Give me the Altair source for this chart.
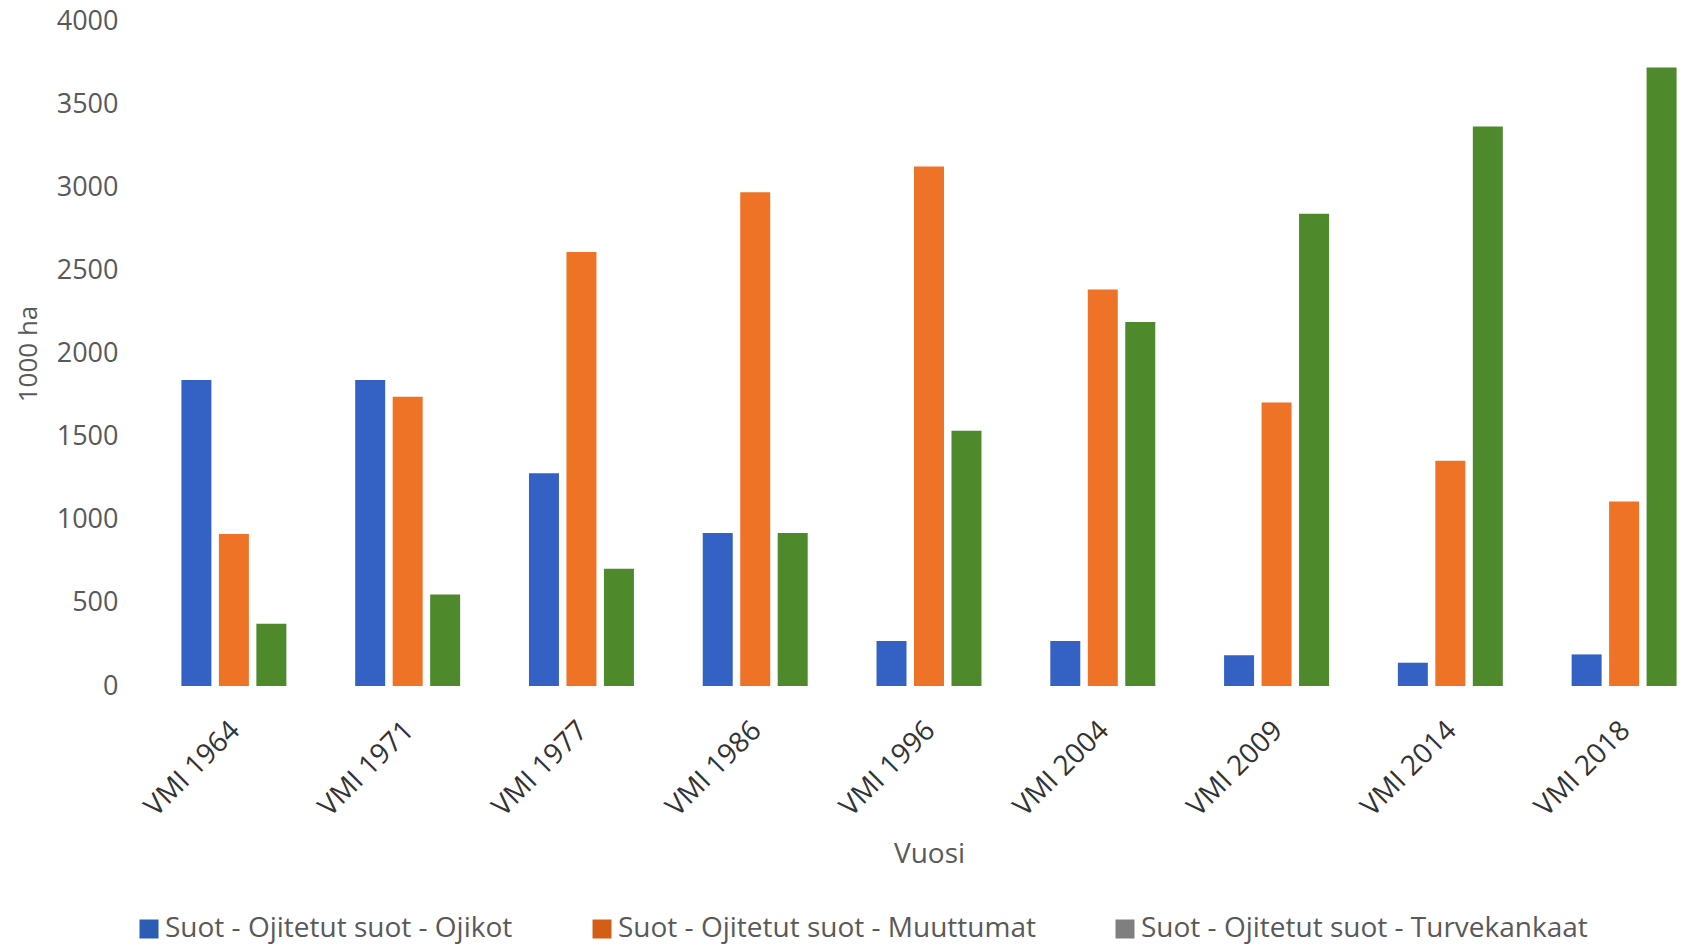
import altair as alt
import pandas as pd

# National forest inventory rounds (VMI) and drained peatland areas, 1000 ha
inventories = ["VMI 1964", "VMI 1971", "VMI 1977", "VMI 1986", "VMI 1996",
               "VMI 2004", "VMI 2009", "VMI 2014", "VMI 2018"]
ojikot = [1840, 1840, 1280, 920, 270, 270, 185, 140, 190]
muuttumat = [915, 1740, 2610, 2970, 3125, 2385, 1705, 1355, 1110]
turvekankaat = [375, 550, 705, 920, 1535, 2190, 2840, 3365, 3720]

series_names = [
    "Suot - Ojitetut suot - Ojikot",
    "Suot - Ojitetut suot - Muuttumat",
    "Suot - Ojitetut suot - Turvekankaat",
]
bar_colors = ["#3362C4", "#EE7326", "#4E8A2C"]
legend_colors = ["#2C5DB5", "#D35F16", "#7F7F7F"]

rows = []
for name, values, fill in zip(series_names, [ojikot, muuttumat, turvekankaat], bar_colors):
    for inv, v in zip(inventories, values):
        rows.append({"Vuosi": inv, "Sarja": name, "ha": v, "fill": fill})
df = pd.DataFrame(rows)

FONT = "Open Sans"

x_enc = alt.X(
    "Vuosi:N",
    sort=inventories,
    scale=alt.Scale(range=[0, 1564], paddingInner=0.396, paddingOuter=0.198),
    axis=alt.Axis(
        title="Vuosi",
        labelAngle=-45,
        labelFontSize=28,
        labelFont=FONT,
        labelColor="#333333",
        labelPadding=30,
        labelOffset=-8,
        ticks=False,
        domain=False,
        titleFont=FONT,
        titleFontSize=28,
        titleFontWeight="normal",
        titleColor="#595959",
        titlePadding=19,
    ),
)
xoff_enc = alt.XOffset(
    "Sarja:N",
    sort=series_names,
    scale=alt.Scale(paddingInner=0.2, paddingOuter=0),
)
y_enc = alt.Y(
    "ha:Q",
    scale=alt.Scale(domain=[0, 4000], nice=False),
    axis=alt.Axis(
        title="1000 ha",
        values=list(range(0, 4001, 500)),
        format="d",
        grid=False,
        ticks=False,
        domain=False,
        labelFont=FONT,
        labelFontSize=27,
        labelColor="#595959",
        labelPadding=29,
        titleFont=FONT,
        titleFontSize=26,
        titleFontWeight="normal",
        titleColor="#595959",
        titlePadding=15,
    ),
)

base = alt.Chart(df)

# Series key: same bars, transparent, carrying the legend colours
key = base.mark_bar(opacity=0).encode(
    x=x_enc,
    xOffset=xoff_enc,
    y=y_enc,
    color=alt.Color(
        "Sarja:N",
        sort=series_names,
        scale=alt.Scale(domain=series_names, range=legend_colors),
        legend=alt.Legend(
            title=None,
            orient="none",
            direction="horizontal",
            legendX=-12,
            legendY=894,
            symbolType="square",
            symbolSize=361,
            symbolStrokeWidth=0,
            symbolOpacity=1,
            labelFont=FONT,
            labelFontSize=28,
            labelColor="#595959",
            labelOffset=2,
            labelLimit=0,
            columnPadding=75,
        ),
    ),
)

bars = base.mark_bar().encode(
    x=x_enc,
    xOffset=xoff_enc,
    y=y_enc,
    fill=alt.Fill("fill:N", scale=None),
)

chart = alt.layer(key, bars).properties(
    width=1534,
    height=665,
    autosize=alt.AutoSizeParams(type="none"),
    padding={"left": 147, "top": 21, "right": 0, "bottom": 261},
).configure(background="white").configure_view(stroke=None)

chart.save("out.html", embed_options={"renderer": "svg", "actions": False})
